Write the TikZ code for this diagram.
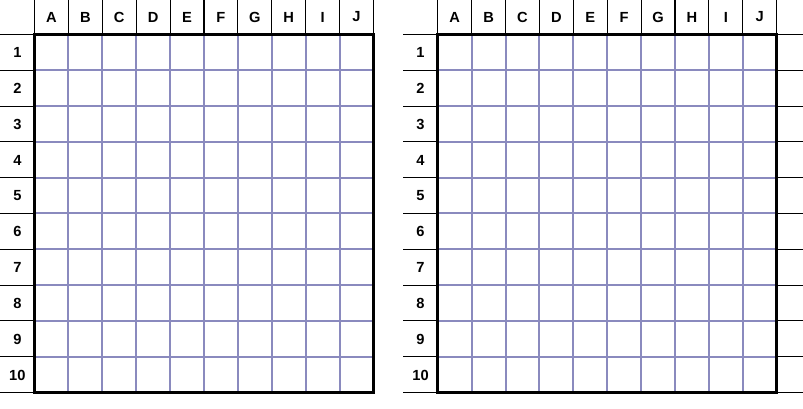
\documentclass[tikz,border=0pt]{standalone}
\usepackage{fontspec}
\setmainfont{Liberation Sans}
\definecolor{gridblue}{RGB}{138,138,190}

\begin{document}
\begin{tikzpicture}[x=0.75pt,y=-0.75pt,
    thinline/.style={draw=black,line width=0.8pt},
    gridline/.style={draw=gridblue,line width=1.5pt},
    border/.style={draw=black,line width=2.3pt},
    headtext/.style={font=\fontsize{11}{13}\selectfont\bfseries,inner sep=0pt}]
  \useasboundingbox (0,0) rectangle (803,409);
  \foreach \bx/\bd in {34.5/L,437.7/R} {
    % row label column and column header lines
    \foreach \i in {0,...,10}
      \draw[thinline] (\bx-34.3,34.5+\i*35.8) -- (\bx,34.5+\i*35.8);
    \foreach \j in {0,...,10}
      \draw[thinline] (\bx+\j*33.9,0) -- (\bx+\j*33.9,34.5);
    % inner cells
    \foreach \k in {1,...,9} {
      \draw[gridline] (\bx+\k*33.9,34.5) -- (\bx+\k*33.9,392.5);
      \draw[gridline] (\bx,34.5+\k*35.8) -- (\bx+339,34.5+\k*35.8);
    }
    \draw[border] (\bx,34.5) rectangle (\bx+339,392.5);
    \foreach \c [count=\j] in {A,B,C,D,E,F,G,H,I,J}
      \node[headtext] (\bd-\c) at (\bx+\j*33.9-16.95,17) {\c};
    \foreach \r in {1,...,10}
      \node[headtext] (\bd-\r) at (\bx-17.15,34.5+\r*35.8-17.5) {\r};
  }
  % lines right of the second board
  \foreach \i in {0,...,10}
    \draw[thinline] (776.7,34.5+\i*35.8) -- (803,34.5+\i*35.8);
\end{tikzpicture}
\end{document}
